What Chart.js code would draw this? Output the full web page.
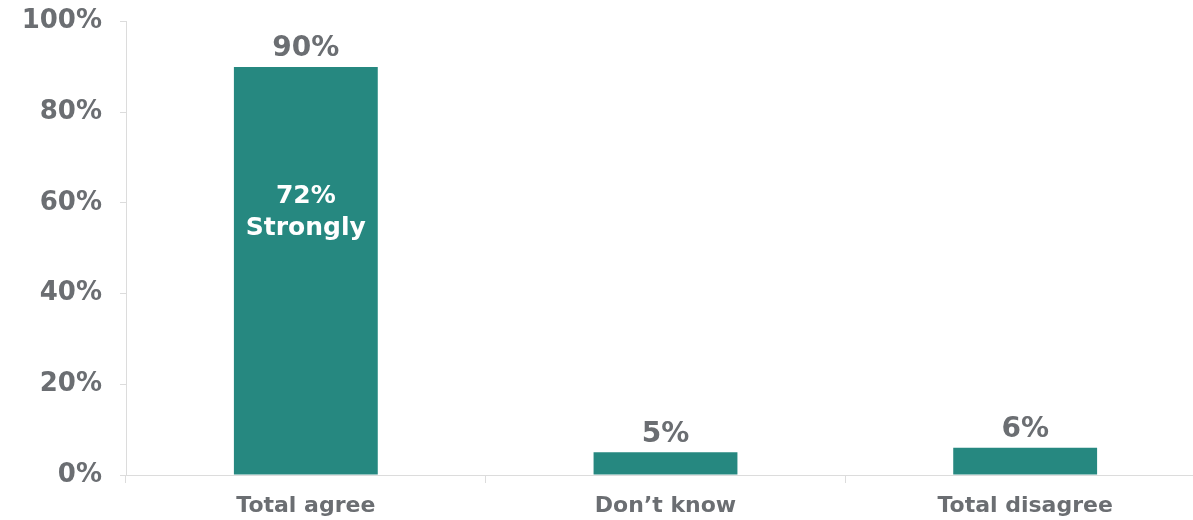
<!DOCTYPE html>
<html>
<head>
<meta charset="utf-8">
<script src="https://cdn.jsdelivr.net/npm/chart.js@4/dist/chart.umd.min.js"></script>
<style>
  html, body { margin: 0; padding: 0; background: #fff; overflow: hidden; }
  #wrap { position: relative; top: -12px; width: 1205px; height: 532px; }
</style>
</head>
<body>
<div id="wrap"><canvas id="chart"></canvas></div>
<script>
// Données
const categories = ["Total agree", "Don\u2019t know", "Total disagree"];
const values = [90, 5, 6];
const innerNote = ["72%", "Strongly"];

const textGray = "#6b6e72";
const barColor = "#268880";
const axisGray = "#dcdcdc";
const fontFamily = "'DejaVu Sans', Verdana, sans-serif";

// libellés des valeurs au-dessus des barres + note dans la première barre
const valueLabels = {
  id: "valueLabels",
  afterDatasetsDraw(chart) {
    const ctx = chart.ctx;
    const meta = chart.getDatasetMeta(0);
    ctx.save();
    ctx.textAlign = "center";
    ctx.textBaseline = "middle";
    ctx.font = "bold 28px " + fontFamily;
    ctx.fillStyle = textGray;
    meta.data.forEach((bar, i) => {
      ctx.fillText(values[i] + "%", bar.x, bar.y - 18);
    });
    const first = meta.data[0];
    const yMid = chart.scales.y.getPixelForValue(58);
    ctx.font = "bold 25px " + fontFamily;
    ctx.fillStyle = "#ffffff";
    ctx.fillText(innerNote[0], first.x, yMid - 16);
    ctx.fillText(innerNote[1], first.x, yMid + 16);
    ctx.restore();
  },
};

new Chart(document.getElementById("chart"), {
  type: "bar",
  plugins: [valueLabels],
  data: {
    labels: categories,
    datasets: [
      {
        data: values,
        backgroundColor: barColor,
        barPercentage: 0.4,
        categoryPercentage: 1,
      },
    ],
  },
  options: {
    responsive: true,
    maintainAspectRatio: false,
    animation: false,
    layout: { padding: { top: 6, right: 0, left: 0, bottom: 0 } },
    plugins: { legend: { display: false }, tooltip: { enabled: false } },
    scales: {
      y: {
        min: 0,
        max: 100,
        ticks: {
          stepSize: 20,
          padding: 18,
          color: textGray,
          font: { family: fontFamily, weight: "bold", size: 26 },
          callback: (v) => v + "%",
        },
        grid: { drawOnChartArea: false, tickLength: 6, color: axisGray },
        border: { color: axisGray },
        afterFit: (s) => { s.width = 126; },
      },
      x: {
        ticks: {
          padding: 10,
          color: textGray,
          font: { family: fontFamily, weight: "bold", size: 22 },
        },
        grid: { drawOnChartArea: false, tickLength: 8, color: axisGray, offset: true },
        border: { color: axisGray },
        afterFit: (s) => { s.height = 45; },
      },
    },
  },
});
</script>
</body>
</html>
